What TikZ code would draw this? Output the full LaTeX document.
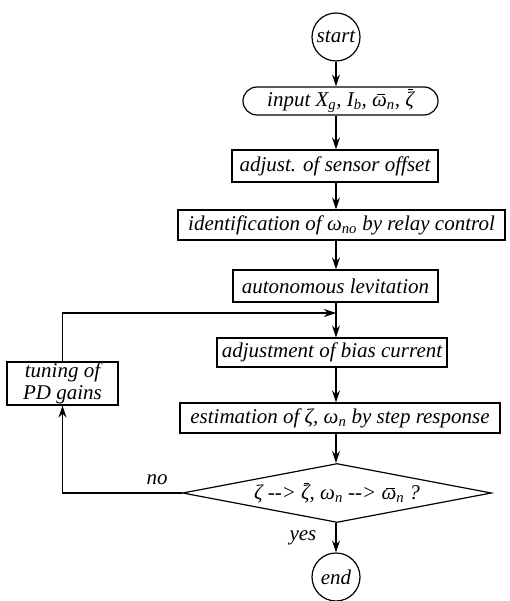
\documentclass[tikz,border=0pt]{standalone}
\usepackage{fontspec}
\setmainfont{Liberation Serif}
\usetikzlibrary{arrows.meta,shapes.geometric,shapes.misc}
\newcommand{\sbs}[1]{\textsubscript{#1}}
\newsavebox{\tbarbox}
\newcommand{\tbar}[1]{\sbox{\tbarbox}{#1}\rlap{\kern0.3\wd\tbarbox\raisebox{\dimexpr\ht\tbarbox+1.5pt\relax}{\rule{0.6\wd\tbarbox}{0.9pt}}}\usebox{\tbarbox}}
\begin{document}
\begin{tikzpicture}[x=1pt,y=-1pt,
  every node/.style={font=\fontsize{21}{24}\selectfont\itshape},
  box/.style={draw, rectangle, inner sep=0pt, line width=1.2pt},
  term/.style={draw, circle, minimum size=48pt, inner sep=0pt, line width=1.2pt},
  arr/.style={-{Stealth[length=12pt,width=8pt,inset=4pt]}, line width=1.2pt},
  lbl/.style={inner sep=0pt}]
\useasboundingbox (0,0) rectangle (509,601);
\node[term] (start) at (336,37) {start};
\node[draw, rounded rectangle, minimum width=195pt, minimum height=28pt, inner sep=0pt, line width=1.2pt] (input) at (340.5,101) {input X\sbs{g}, I\sbs{b}, \tbar{ω}\sbs{n}, \tbar{ζ}};
\node[box, minimum width=206pt, minimum height=32pt] (adj) at (335,166) {adjust. of sensor offset};
\node[box, minimum width=327pt, minimum height=30pt] (ident) at (341.5,225) {identification of ω\sbs{no} by relay control};
\node[box, minimum width=205pt, minimum height=32pt] (auton) at (335.5,286) {autonomous levitation};
\node[box, minimum width=230pt, minimum height=29pt] (bias) at (332,352.5) {adjustment of bias current};
\node[box, minimum width=320pt, minimum height=30pt] (estim) at (340,418) {estimation of ζ, ω\sbs{n} by step response};
\node[box, minimum width=111pt, minimum height=43pt, align=center, font=\fontsize{21}{22}\selectfont\itshape] (tune) at (62.5,383.5) {tuning of\\PD gains};
\node[draw, diamond, aspect=5.24, minimum width=309pt, minimum height=59pt, inner sep=0pt, line width=1.2pt] (dec) at (337,493) {ζ -{}-> \tbar{ζ}, ω\sbs{n} -{}-> \tbar{ω}\sbs{n} ?};
\node[term] (endn) at (336,577) {end};
\node[lbl] (no) at (157,480) {no};
\node[lbl] (yes) at (303,538) {yes};
\coordinate (j) at (336,313);
\draw[arr] (start.south) -- (start.south |- input.north);
\draw[arr] (start.south |- input.south) -- (start.south |- adj.north);
\draw[arr] (start.south |- adj.south) -- (start.south |- ident.north);
\draw[arr] (start.south |- ident.south) -- (start.south |- auton.north);
\draw[arr] (start.south |- auton.south) -- (start.south |- bias.north);
\draw[arr] (tune.north) |- (j);
\draw[arr] (start.south |- bias.south) -- (start.south |- estim.north);
\draw[arr] (start.south |- estim.south) -- (start.south |- dec.north);
\draw[arr] (dec.west) -| (tune.south);
\draw[arr] (start.south |- dec.south) -- (endn.north);
\end{tikzpicture}
\end{document}
